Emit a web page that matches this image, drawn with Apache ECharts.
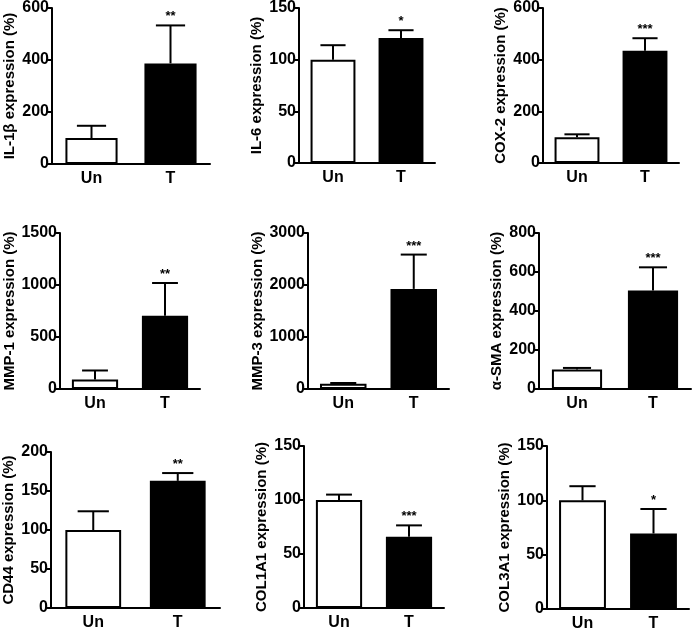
<!DOCTYPE html>
<html><head><meta charset="utf-8">
<script src="https://cdn.jsdelivr.net/npm/echarts@6/dist/echarts.min.js"></script>
<style>html,body{margin:0;padding:0;background:#fff}#c{width:693px;height:632px}</style>
</head><body><div id="c"></div>
<script>
const categories = ['Un', 'T'];
const yTitles = ['IL-1β expression (%)', 'IL-6 expression (%)', 'COX-2 expression (%)',
  'MMP-1 expression (%)', 'MMP-3 expression (%)', 'α-SMA expression (%)',
  'CD44 expression (%)', 'COL1A1 expression (%)', 'COL3A1 expression (%)'];
const unMean = [100, 100, 100, 92, 100, 100, 100, 100, 100];
const unErr = [47, 14, 11, 86, 15, 8, 24, 5, 13];
const tMean = [387, 121, 435, 705, 1925, 505, 163, 66, 69.5];
const tErr = [146, 7.5, 48, 314, 660, 119, 10, 10.5, 22.5];
const stars = ['**', '*', '***', '**', '***', '***', '**', '***', '*'];
const yMax = [600, 150, 600, 1500, 3000, 800, 200, 150, 150];
const yStep = [200, 50, 200, 500, 1000, 200, 50, 50, 50];

// layout: left, top, width, height
const layout = [
  [52, 7, 158, 157], [299, 7, 136, 156], [543, 7, 136, 156],
  [60, 233, 140, 156], [308, 233, 141, 156], [539, 233, 152, 156],
  [51, 452, 169, 156], [304, 446, 140, 162], [547, 446, 142, 163]
];

const FONT = 'Liberation Sans, Arial, sans-serif';
const grids = [], xAxes = [], yAxes = [], series = [];
for (let i = 0; i < 9; i++) {
  const L = layout[i];
  grids.push({ left: L[0], top: L[1], width: L[2], height: L[3] });
  xAxes.push({
    type: 'category', gridIndex: i, data: categories,
    axisLine: { lineStyle: { color: '#000', width: 2 } },
    axisTick: { alignWithLabel: true, length: 5, lineStyle: { color: '#000', width: 2 } },
    axisLabel: { color: '#000', fontFamily: FONT, fontWeight: 'bold', fontSize: 16, margin: 7 }
  });
  yAxes.push({
    type: 'value', gridIndex: i, min: 0, max: yMax[i], interval: yStep[i],
    name: yTitles[i], nameLocation: 'middle', nameGap: 35, nameRotate: 90,
    nameTextStyle: { color: '#000', fontFamily: FONT, fontWeight: 'bold', fontSize: 15 },
    splitLine: { show: false },
    axisLine: { show: true, lineStyle: { color: '#000', width: 2 } },
    axisTick: { show: true, length: 4, lineStyle: { color: '#000', width: 2 } },
    axisLabel: { color: '#000', fontFamily: FONT, fontWeight: 'bold', fontSize: 16, margin: 3,
      formatter: function (v) { return String(v); } }
  });
  series.push({
    type: 'bar', xAxisIndex: i, yAxisIndex: i, barWidth: '66%', silent: true,
    data: [
      { value: unMean[i], itemStyle: { color: '#fff', borderColor: '#000', borderWidth: 2 } },
      { value: tMean[i], itemStyle: { color: '#000', borderColor: '#000', borderWidth: 2 } }
    ]
  });
  series.push({
    type: 'custom', xAxisIndex: i, yAxisIndex: i, silent: true, z: 5,
    data: [[0, unMean[i], unMean[i] + unErr[i], ''], [1, tMean[i], tMean[i] + tErr[i], stars[i]]],
    renderItem: function (params, api) {
      const x = api.value(0);
      const p0 = api.coord([x, api.value(1)]);
      const p1 = api.coord([x, api.value(2)]);
      const half = api.size([1, 0])[0] * 0.66 * 0.28;
      const st = { stroke: '#000', lineWidth: 2 };
      const children = [
        { type: 'line', shape: { x1: p0[0], y1: p0[1], x2: p1[0], y2: p1[1] }, style: st },
        { type: 'line', shape: { x1: p1[0] - half, y1: p1[1], x2: p1[0] + half, y2: p1[1] }, style: st }
      ];
      const s = api.value(3);
      if (s) {
        children.push({ type: 'text', x: p1[0], y: p1[1] - 2,
          style: { text: s, fill: '#000', font: 'bold 13px ' + FONT, align: 'center', verticalAlign: 'bottom' } });
      }
      return { type: 'group', children: children };
    }
  });
}
const chart = echarts.init(document.getElementById('c'), null, { renderer: 'canvas' });
chart.setOption({ animation: false, backgroundColor: '#fff', grid: grids, xAxis: xAxes, yAxis: yAxes, series: series });
</script></body></html>
